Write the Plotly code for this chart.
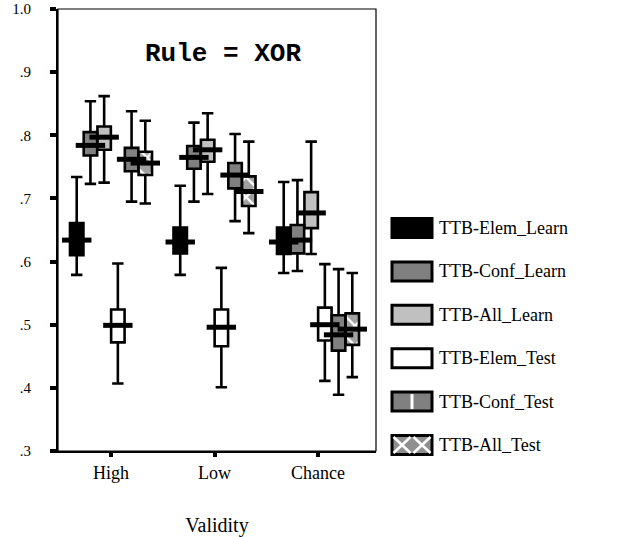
import plotly.graph_objects as go

# ---------------- data ----------------
categories = ["High", "Low", "Chance"]
series_names = ["TTB-Elem_Learn", "TTB-Conf_Learn", "TTB-All_Learn",
                "TTB-Elem_Test", "TTB-Conf_Test", "TTB-All_Test"]

elem_learn_low = [0.579, 0.579, 0.582]
elem_learn_q1 = [0.610, 0.613, 0.612]
elem_learn_med = [0.634, 0.631, 0.631]
elem_learn_q3 = [0.661, 0.654, 0.654]
elem_learn_high = [0.734, 0.720, 0.726]

conf_learn_low = [0.723, 0.695, 0.585]
conf_learn_q1 = [0.768, 0.747, 0.613]
conf_learn_med = [0.784, 0.765, 0.634]
conf_learn_q3 = [0.805, 0.783, 0.658]
conf_learn_high = [0.854, 0.820, 0.729]

all_learn_low = [0.725, 0.707, 0.612]
all_learn_q1 = [0.777, 0.758, 0.653]
all_learn_med = [0.797, 0.777, 0.677]
all_learn_q3 = [0.814, 0.793, 0.710]
all_learn_high = [0.862, 0.835, 0.790]

elem_test_low = [0.407, 0.401, 0.411]
elem_test_q1 = [0.472, 0.466, 0.475]
elem_test_med = [0.499, 0.496, 0.500]
elem_test_q3 = [0.524, 0.524, 0.527]
elem_test_high = [0.597, 0.590, 0.596]

conf_test_low = [0.695, 0.664, 0.389]
conf_test_q1 = [0.743, 0.716, 0.459]
conf_test_med = [0.762, 0.737, 0.484]
conf_test_q3 = [0.780, 0.756, 0.515]
conf_test_high = [0.838, 0.802, 0.588]

all_test_low = [0.692, 0.645, 0.417]
all_test_q1 = [0.737, 0.688, 0.468]
all_test_med = [0.756, 0.711, 0.493]
all_test_q3 = [0.774, 0.735, 0.518]
all_test_high = [0.823, 0.790, 0.582]

y_tick_vals = [0.3, 0.4, 0.5, 0.6, 0.7, 0.8, 0.9, 1.0]
y_tick_text = [".3", ".4", ".5", ".6", ".7", ".8", ".9", "1.0"]

# ---------------- styling ----------------
stats = [
    (elem_learn_low, elem_learn_q1, elem_learn_med, elem_learn_q3, elem_learn_high),
    (conf_learn_low, conf_learn_q1, conf_learn_med, conf_learn_q3, conf_learn_high),
    (all_learn_low, all_learn_q1, all_learn_med, all_learn_q3, all_learn_high),
    (elem_test_low, elem_test_q1, elem_test_med, elem_test_q3, elem_test_high),
    (conf_test_low, conf_test_q1, conf_test_med, conf_test_q3, conf_test_high),
    (all_test_low, all_test_q1, all_test_med, all_test_q3, all_test_high),
]
fills = ["#000000", "#808080", "#c0c0c0", "#ffffff", "#808080", "#a0a0a0"]
patterns = [None, None, None, None, None,
            dict(shape="x", fgcolor="#ffffff", bgcolor="#a0a0a0",
                 size=14, solidity=0.3, fillmode="replace")]

SLOT = 0.1325
BW = 0.13
SERIF = "Liberation Serif, Times New Roman, serif"

fig = go.Figure()
cat_idx = list(range(len(categories)))

for i, (name, st) in enumerate(zip(series_names, stats)):
    lo, q1, med, q3, hi = st
    xs = [c + (i - 2.5) * SLOT for c in cat_idx]
    marker = dict(color=fills[i], line=dict(width=0))
    if patterns[i] is not None:
        marker["pattern"] = patterns[i]
    # fill of the box (bar from q1 to q3)
    fig.add_trace(go.Bar(
        x=xs, y=[b - a for a, b in zip(q1, q3)], base=q1, width=BW,
        marker=marker, name=name, showlegend=False, hoverinfo="skip"))
    # outline, whiskers
    fig.add_trace(go.Box(
        x=xs, q1=q1, median=med, q3=q3, lowerfence=lo, upperfence=hi,
        width=BW, whiskerwidth=0.85, fillcolor="rgba(0,0,0,0)",
        line=dict(color="black", width=2.6), name=name, showlegend=False,
        boxpoints=False))
    # thick median
    fig.add_trace(go.Scatter(
        x=xs, y=med, mode="markers", showlegend=False, hoverinfo="skip",
        marker=dict(symbol="line-ew", size=21,
                    line=dict(color="black", width=5))))

# ---------------- layout ----------------
L, R, T, B = 58, 376, 9, 451
W, H = 637, 537


def px2x(px):
    return (px - L) / (R - L)


def px2y(py):
    return (B - py) / (B - T)


shapes = [dict(type="rect", xref="paper", yref="paper", x0=0, x1=1, y0=0, y1=1,
               line=dict(color="black", width=1.2), layer="above")]
annotations = [dict(text="<b>Rule = XOR</b>", xref="paper", yref="paper",
                    x=px2x(223), y=px2y(54), xanchor="center", yanchor="middle",
                    showarrow=False,
                    font=dict(family="Liberation Mono, Courier New, monospace",
                              size=26, color="black"))]

# custom legend
sx0, sx1, sh = 392, 432, 19
for i, name in enumerate(series_names):
    cy = 228 + i * 43.4
    y0, y1 = cy + sh / 2, cy - sh / 2
    legend_fill = fills[i]
    if i == 5:
        legend_fill = "#909090"
    shapes.append(dict(type="rect", xref="paper", yref="paper",
                       x0=px2x(sx0), x1=px2x(sx1), y0=px2y(y0), y1=px2y(y1),
                       fillcolor=legend_fill, line=dict(color="black", width=3)))
    if i == 4:
        mx = (sx0 + sx1) / 2
        shapes.append(dict(type="line", xref="paper", yref="paper",
                           x0=px2x(mx), x1=px2x(mx), y0=px2y(y0 - 2), y1=px2y(y1 + 2),
                           line=dict(color="white", width=3)))
    if i == 5:
        half = (sx1 - sx0) / 2
        for k in range(2):
            a = sx0 + 1.5 + k * half
            b = a + half - 3
            shapes.append(dict(type="line", xref="paper", yref="paper",
                               x0=px2x(a), x1=px2x(b), y0=px2y(y1 + 1.5), y1=px2y(y0 - 1.5),
                               line=dict(color="white", width=2.5)))
            shapes.append(dict(type="line", xref="paper", yref="paper",
                               x0=px2x(a), x1=px2x(b), y0=px2y(y0 - 1.5), y1=px2y(y1 + 1.5),
                               line=dict(color="white", width=2.5)))
    annotations.append(dict(text=name, xref="paper", yref="paper",
                            x=px2x(437), y=px2y(cy), xanchor="left", yanchor="middle",
                            showarrow=False,
                            font=dict(family=SERIF, size=18, color="black")))

fig.update_layout(
    width=W, height=H, autosize=False,
    margin=dict(l=L, r=W - R, t=T, b=H - B, pad=0),
    plot_bgcolor="white", paper_bgcolor="white",
    barmode="overlay", boxmode="overlay",
    showlegend=False,
    shapes=shapes, annotations=annotations,
    font=dict(family=SERIF, color="black"),
)
fig.update_xaxes(
    range=[-(111 - L) / 103.5, 2 + (R - 318) / 103.5],
    tickmode="array", tickvals=cat_idx, ticktext=categories,
    showline=True, linecolor="black", linewidth=2,
    ticks="outside", ticklen=4, tickwidth=4, tickcolor="black",
    showgrid=False, zeroline=False, automargin=False,
    tickfont=dict(family=SERIF, size=18, color="black"),
    title=dict(text="Validity", standoff=36,
               font=dict(family=SERIF, size=20, color="black")),
)
fig.update_yaxes(
    range=[0.3, 1.0],
    tickmode="array", tickvals=y_tick_vals, ticktext=y_tick_text,
    showline=True, linecolor="black", linewidth=2,
    ticks="outside", ticklen=6, tickwidth=4, tickcolor="black",
    showgrid=False, zeroline=False, ticklabelstandoff=16, automargin=False,
    tickfont=dict(family=SERIF, size=15, color="black"),
)

fig.write_html("out.html", config={"displayModeBar": False},
               post_script="document.body.style.margin='0px';")
